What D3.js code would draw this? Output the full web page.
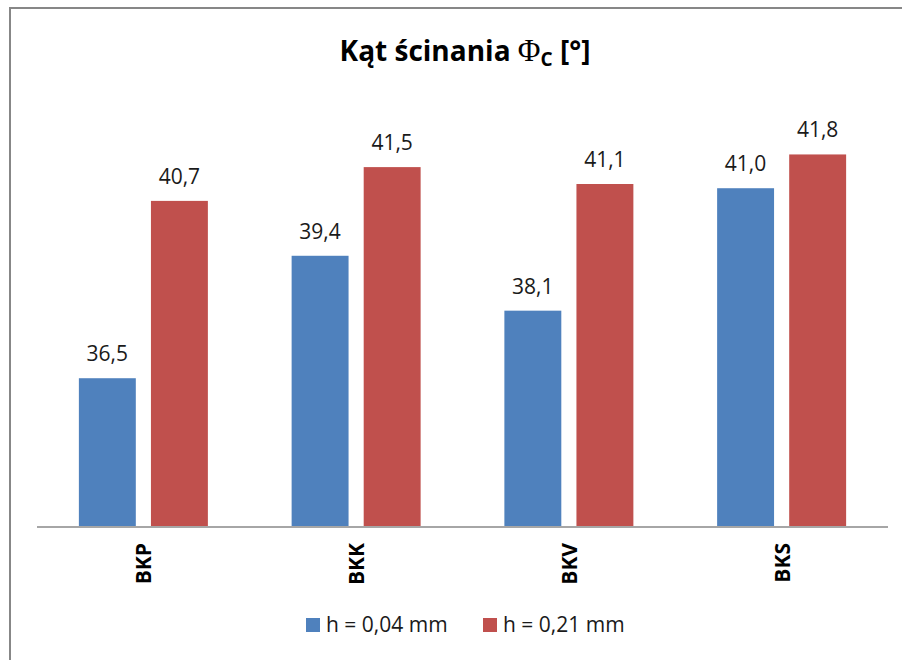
<!DOCTYPE html>
<html>
<head>
<meta charset="utf-8">
<script src="https://cdn.jsdelivr.net/npm/d3@7"></script>
<style>
  body { margin: 0; background: #fff; }
  text { font-family: "Open Sans", "DejaVu Sans", sans-serif; fill: #1a1a1a; }
</style>
</head>
<body>
<div id="chart"></div>
<script>
// data
var categories = ["BKP", "BKK", "BKV", "BKS"];
var seriesNames = ["h = 0,04 mm", "h = 0,21 mm"];
var seriesColors = ["#4F81BD", "#C0504D"];
var valuesSmall = [36.5, 39.4, 38.1, 41.0];
var valuesLarge = [40.7, 41.5, 41.1, 41.8];
var yDomain = [33, 42];

var W = 902, H = 660;
var svg = d3.select("#chart").append("svg").attr("width", W).attr("height", H);

svg.append("rect").attr("width", W).attr("height", H).attr("fill", "#fff");

// chart frame (only top and left edges are visible)
svg.append("line").attr("x1", 9).attr("x2", W).attr("y1", 8).attr("y2", 8)
    .attr("stroke", "#878787").attr("stroke-width", 2);
svg.append("line").attr("x1", 10).attr("x2", 10).attr("y1", 7).attr("y2", H)
    .attr("stroke", "#878787").attr("stroke-width", 2);

var plot = {left: 37, right: 888, top: 146, bottom: 526};

var x0 = d3.scaleBand().domain(categories).range([plot.left, plot.right]);
var x1 = d3.scaleBand().domain([0, 1]).range([0, 129]).paddingInner(0.21);
var y = d3.scaleLinear().domain(yDomain).range([plot.bottom, plot.top]);

var rows = categories.map(function(c, i) {
    return {cat: c, vals: [valuesSmall[i], valuesLarge[i]]};
});

var fmt = function(v) { return d3.format(".1f")(v).replace(".", ","); };

var groups = svg.selectAll("g.cat").data(rows).enter().append("g")
    .attr("class", "cat")
    .attr("transform", function(d) {
        return "translate(" + (x0(d.cat) + x0.bandwidth() / 2 - 64.5) + ",0)";
    });

groups.selectAll("rect").data(function(d) { return d.vals; }).enter().append("rect")
    .attr("x", function(d, i) { return x1(i); })
    .attr("width", x1.bandwidth())
    .attr("y", function(d) { return y(d); })
    .attr("height", function(d) { return plot.bottom - y(d); })
    .attr("fill", function(d, i) { return seriesColors[i]; });

groups.selectAll("text.val").data(function(d) { return d.vals; }).enter().append("text")
    .attr("class", "val")
    .attr("x", function(d, i) { return x1(i) + x1.bandwidth() / 2; })
    .attr("y", function(d) { return y(d) - 17; })
    .attr("text-anchor", "middle")
    .style("font-size", "21px")
    .text(fmt);

// x axis line
svg.append("line").attr("x1", plot.left).attr("x2", plot.right)
    .attr("y1", plot.bottom + 1).attr("y2", plot.bottom + 1)
    .attr("stroke", "#a6a6a6").attr("stroke-width", 2);

// category labels, rotated
svg.selectAll("text.cat").data(categories).enter().append("text")
    .attr("class", "cat")
    .attr("transform", function(d) {
        return "translate(" + (x0(d) + x0.bandwidth() / 2 + 8) + "," + 543 + ") rotate(-90)";
    })
    .attr("text-anchor", "end")
    .style("font-size", "21px")
    .style("font-weight", "bold")
    .style("fill", "#000")
    .text(function(d) { return d; });

// title
var title = svg.append("text")
    .attr("x", 465).attr("y", 61)
    .attr("text-anchor", "middle")
    .style("font-size", "28px")
    .style("font-weight", "bold")
    .style("fill", "#000");
title.append("tspan").text("Kąt ścinania ");
title.append("tspan").style("font-family", "'Liberation Serif', serif")
    .style("font-weight", "normal").style("font-size", "31px").text("Φ");
title.append("tspan").attr("dy", 5).style("font-size", "19px").text("C");
title.append("tspan").attr("dy", -5).text(" [°]");

// legend
var legendX = [306, 483];
var legend = svg.selectAll("g.leg").data(seriesNames).enter().append("g")
    .attr("class", "leg")
    .attr("transform", function(d, i) { return "translate(" + legendX[i] + ",618)"; });
legend.append("rect").attr("width", 14).attr("height", 14)
    .attr("fill", function(d, i) { return seriesColors[i]; });
legend.append("text").attr("x", 20).attr("y", 14)
    .style("font-size", "21px")
    .text(function(d) { return d; });
</script>
</body>
</html>
